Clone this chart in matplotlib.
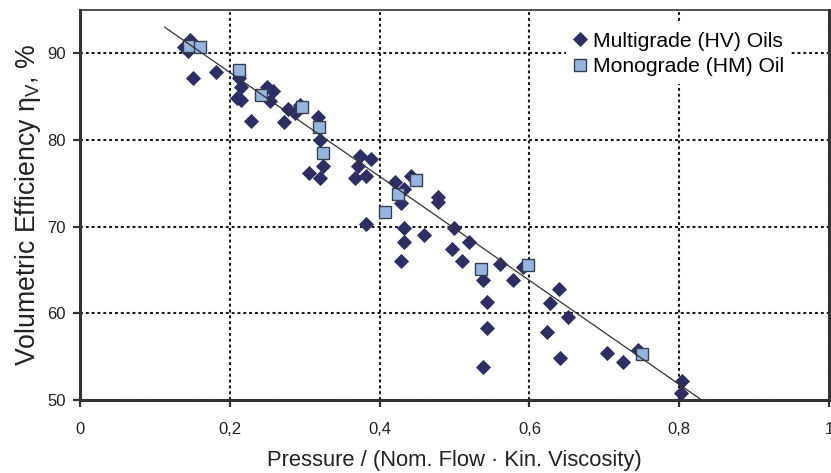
import numpy as np
import matplotlib
matplotlib.use("Agg")
import matplotlib.pyplot as plt
from matplotlib.ticker import FuncFormatter

plt.rcParams['font.family'] = ['Liberation Sans', 'DejaVu Sans']
plt.rcParams['mathtext.fontset'] = 'custom'
plt.rcParams['mathtext.rm'] = 'Liberation Sans'
plt.rcParams['mathtext.it'] = 'Liberation Sans:italic'

# Multigrade (HV) oils - diamonds
hv_x = [0.147, 0.139, 0.144, 0.151, 0.181, 0.212, 0.215, 0.210, 0.215, 0.228,
        0.249, 0.258, 0.254, 0.278, 0.294, 0.287, 0.273, 0.318, 0.321, 0.324,
        0.306, 0.320, 0.374, 0.389, 0.371, 0.367, 0.382, 0.420, 0.433, 0.429,
        0.442, 0.478, 0.478, 0.382, 0.433, 0.459, 0.433, 0.428, 0.500, 0.520,
        0.497, 0.510, 0.538, 0.561, 0.578, 0.591, 0.544, 0.640, 0.628, 0.652,
        0.543, 0.624, 0.538, 0.641, 0.704, 0.725, 0.745, 0.804, 0.802]
hv_y = [91.5, 90.7, 90.3, 87.2, 87.9, 87.1, 86.1, 84.9, 84.6, 82.2,
        86.1, 85.7, 84.5, 83.6, 84.0, 83.1, 82.1, 82.7, 80.0, 77.0,
        76.2, 75.6, 78.1, 77.8, 77.0, 75.6, 75.9, 75.1, 74.4, 72.7,
        75.8, 73.4, 72.9, 70.3, 69.8, 69.0, 68.2, 66.0, 69.8, 68.2,
        67.4, 66.0, 63.9, 65.7, 63.9, 65.4, 61.3, 62.8, 61.2, 59.6,
        58.3, 57.8, 53.8, 54.9, 55.4, 54.4, 55.8, 52.2, 50.8]

# Monograde (HM) oil - squares
hm_x = [0.146, 0.160, 0.212, 0.242, 0.297, 0.319, 0.324, 0.424, 0.407, 0.448,
        0.536, 0.598, 0.751]
hm_y = [90.9, 90.7, 88.1, 85.2, 83.8, 81.5, 78.5, 73.8, 71.7, 75.4,
        65.1, 65.6, 55.3]

# trend line
trend_slope = -60.0
trend_intercept = 99.8
trend_range = [0.113, 0.831]

fig = plt.figure(figsize=(8.31, 4.73), dpi=100)
ax = fig.add_axes([80 / 831, 73 / 473, 749 / 831, 390 / 473])

ax.grid(True, color='#1a1a1a', linestyle=(0, (1.4, 1.4)), linewidth=1.5, zorder=0)
ax.set_axisbelow(True)

ax.plot(hv_x, hv_y, linestyle='none', marker='D', markersize=7.0,
        markerfacecolor='#2d2e66', markeredgecolor='#2d2e66', markeredgewidth=0.6,
        label='Multigrade (HV) Oils', zorder=3)
ax.plot(hm_x, hm_y, linestyle='none', marker='s', markersize=8.8,
        markerfacecolor='#96b6e2', markeredgecolor='#3a3f50', markeredgewidth=1.0,
        label='Monograde (HM) Oil', zorder=4)

tx = np.array(trend_range)
ax.plot(tx, trend_slope * tx + trend_intercept, color='#333333', linewidth=0.9, zorder=5)

ax.set_xlim(0, 1)
ax.set_ylim(50, 95)
ax.set_xticks([0, 0.2, 0.4, 0.6, 0.8, 1])
ax.set_yticks([50, 60, 70, 80, 90])
ax.xaxis.set_major_formatter(FuncFormatter(lambda v, p: ('%g' % v).replace('.', ',')))
ax.tick_params(axis='both', direction='out', length=5, width=1.6, color='#333333',
               labelsize=12, labelcolor='#222222')
ax.tick_params(axis='x', pad=11)
ax.tick_params(axis='y', pad=5)

for s in ['left', 'bottom', 'right']:
    ax.spines[s].set_linewidth(2.2)
    ax.spines[s].set_color('#333333')
ax.spines['top'].set_linewidth(1.2)
ax.spines['top'].set_color('#333333')

ax.set_xlabel('Pressure / (Nom. Flow \u00b7 Kin. Viscosity)', fontsize=15.8, color='#222222', labelpad=9)
ax.set_ylabel(r'Volumetric Efficiency $\mathrm{\eta_V}$, %', fontsize=19.2, color='#222222', labelpad=3)

leg = ax.legend(loc='upper left', bbox_to_anchor=(0.635, 0.99), frameon=True, fontsize=15.2,
                handlelength=0.6, handletextpad=0.3, borderpad=0.35, labelspacing=0.3,
                fancybox=False, edgecolor='none', facecolor='white', framealpha=1)
leg.get_frame().set_linewidth(0)

plt.savefig('out.png', dpi=100)
plt.close()
